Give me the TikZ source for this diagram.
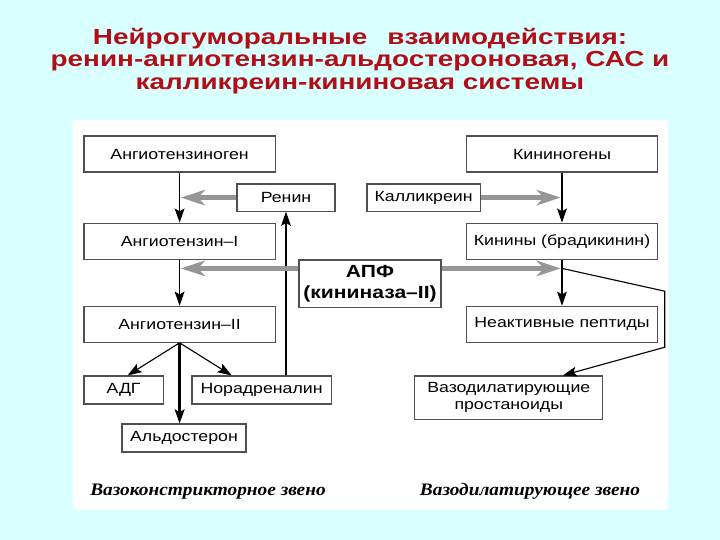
\documentclass[tikz,border=0pt]{standalone}
\usepackage{fontspec}
\setmainfont{Liberation Sans}
\newfontfamily\titlefont[FakeStretch=1.28]{Liberation Sans}
\newfontfamily\boxfont[FakeStretch=1.2]{Liberation Sans}
\newfontfamily\notefont[FakeStretch=1.1]{Liberation Serif}
\usetikzlibrary{arrows.meta}
\usetikzlibrary{positioning}
\definecolor{bgcyan}{RGB}{217,255,255}
\definecolor{titlered}{RGB}{178,14,24}
\definecolor{enzgray}{RGB}{150,150,150}
\definecolor{boxline}{RGB}{80,80,80}

\begin{document}
\begin{tikzpicture}[
    node distance = 0mm,
every node/.style = {inner sep=2pt},
    box/.style  = {draw=boxline, line width=0.8pt, fill=white, inner sep=0pt,
                   font=\boxfont\fontsize{10.5}{12.5}\selectfont, align=center},
    wbox/.style = {box, minimum width=4.78cm, minimum height=9mm},
    sbox/.style = {box, minimum height=7mm},
    flow/.style = {-{Stealth[length=10pt,width=7pt,inset=2pt]}, line width=0.8pt},
    enz/.style  = {-{Stealth[length=17pt,width=11pt,inset=5pt]}, draw=enzgray,
                   line width=3.5pt},
    note/.style = {font=\notefont\bfseries\itshape\fontsize{12.5}{15}\selectfont}]
\fill[bgcyan] (0,0) rectangle (18,13.5);
\fill[white]  (1.83,0.75) rectangle (16.7,10.5);
\useasboundingbox (0,0) rectangle (18,13.5);
% title
\node[text=titlered, align=center,
      font=\titlefont\bfseries\fontsize{15.5}{16}\selectfont] (title) at (9,11.98)
     {Нейрогуморальные\hspace{5mm}взаимодействия:\\
      ренин-ангиотензин-альдостероновая, САС и\\
      калликреин-кининовая системы};
% vasoconstrictor side
\node[wbox] (ang0) at (4.49,9.65)   {Ангиотензиноген};
\node[wbox, below=12.5mm of ang0] (ang1) {Ангиотензин–I};
\node[wbox, below=11.5mm of ang1] (ang2) {Ангиотензин–II};
\node[sbox, minimum width=1.98cm] (adg)    at (3.09,3.75) {АДГ};
\node[sbox, minimum width=3.48cm] (noradr) at (6.54,3.75) {Норадреналин};
\node[sbox, minimum width=3.1cm]  (aldo)   at (4.6,2.55)  {Альдостерон};
\node[box, minimum width=2.45cm, minimum height=6.8mm] (renin) at (7.15,8.56) {Ренин};
% vasodilator side
\node[wbox] (kgen) at (14.05,9.65) {Кининогены};
\node[wbox, below=12.5mm of kgen]  (kin)   {Кинины (брадикинин)};
\node[wbox, below=11.5mm of kin]   (inact) {Неактивные пептиды};
\node[box, minimum width=2.83cm, minimum height=6.8mm] (kall) at (10.59,8.56) {Калликреин};
\node[box, minimum width=4.7cm, minimum height=10.8mm] (vaso) at (12.72,3.56)
     {Вазодилатирующие\\простаноиды};
\node[box, minimum width=3.55cm, minimum height=11.8mm,
      font=\boxfont\bfseries\fontsize{12.5}{14.5}\selectfont] (ace) at (9.25,6.41)
     {АПФ\\(кининаза–II)};
\coordinate (acel) at ([yshift=3.8mm]ace.west);
\coordinate (acer) at ([yshift=3.8mm]ace.east);
\coordinate (bend1) at (16.62,6.22);
\coordinate (bend2) at (16.62,4.82);
\coordinate (vtop)  at ([xshift=1.35cm]vaso.north);
% main chains
\draw[flow] (ang0) -- (ang1);
\draw[flow] (ang1) -- (ang2);
\draw[flow, line width=1.6pt] (ang2.south) -- (ang2.south |- aldo.north);
\draw[flow] (ang2.south) -- ([xshift=1mm]adg.north);
\draw[flow] (ang2.south) -- ([xshift=-7.5mm]noradr.north);
\draw[flow] (renin.south |- noradr.north) -- (renin.south);
\draw[flow] (kgen) -- (kin);
\draw[flow] (kin) -- (inact);
\draw[flow] (kin.south |- acer) -- (bend1) -- (bend2) -- (vtop);
% enzymes
\draw[enz] (renin.west) -- ([xshift=1pt]ang0.south |- renin.west);
\draw[enz] (acel) -- ([xshift=1pt]ang1.south |- acel);
\draw[enz] (kall.east) -- ([xshift=-1pt]kgen.south |- kall.east);
\draw[enz] (acer) -- ([xshift=-1pt]kin.south |- acer);
% captions
\node[note] (vcon) at (5.2,1.2)   {Вазоконстрикторное звено};
\node[note] (vdil) at (13.25,1.22) {Вазодилатирующее звено};
\end{tikzpicture}
\end{document}
